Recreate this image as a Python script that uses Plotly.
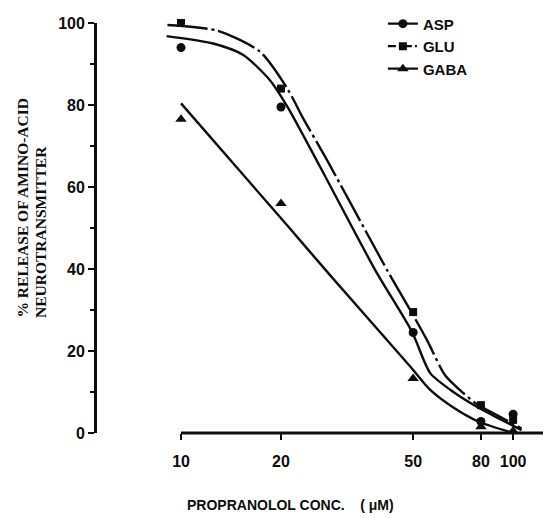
import math
import plotly.graph_objects as go

# ---- data ----
conc = [10, 20, 50, 80, 100]
asp = [94, 79.5, 24.5, 2.8, 4.6]
glu = [100, 84, 29.5, 6.8, 3.2]
gaba = [76.5, 56, 13.3, 1.5, 0.5]

# fitted curves
asp_fit_x = [9.05, 12.5, 15.4, 18.5, 20.9, 26.2, 38.4, 49.6, 56.3, 66.1, 78.5, 89.3, 106]
asp_fit_y = [96.8, 95.0, 92.2, 86.1, 79.6, 65.0, 39.8, 24.7, 14.6, 10.0, 6.2, 3.8, 0.7]
glu_fit_x = [9.1, 12.9, 17.3, 20.9, 23.3, 27.5, 41.7, 49.3, 55, 62.4, 70.9, 78.5, 89.3, 106]
glu_fit_y = [99.5, 98.1, 93.0, 84.0, 76.8, 66.6, 39.8, 29.6, 22.7, 14.1, 9.7, 6.8, 4.4, 1.1]
gaba_fit_x = [10, 20.9, 28.1, 49, 56.3, 66.1, 78.5, 100]
gaba_fit_y = [80.4, 50.6, 38.5, 16.2, 10.5, 6.2, 2.8, 0]

x_ticks = [10, 20, 50, 80, 100]
x_tick_text = ["<b>10</b>", "<b>20</b>", "<b>50</b>", "<b>80</b>", "<b>100</b>"]
y_ticks = [0, 20, 40, 60, 80, 100]
y_tick_text = ["<b>%d</b>" % v for v in y_ticks]

INK = "#0d0d0d"
GLU_DASH = "40px,4px,3px,4px"
SM = 0.7
LW = 2.4

fig = go.Figure()

# fitted curves
fig.add_trace(go.Scatter(x=asp_fit_x, y=asp_fit_y, mode="lines", showlegend=False,
                         line=dict(color=INK, width=LW, shape="spline", smoothing=SM)))
fig.add_trace(go.Scatter(x=glu_fit_x, y=glu_fit_y, mode="lines", showlegend=False,
                         line=dict(color=INK, width=LW, dash=GLU_DASH, shape="spline", smoothing=SM)))
fig.add_trace(go.Scatter(x=gaba_fit_x, y=gaba_fit_y, mode="lines", showlegend=False,
                         line=dict(color=INK, width=LW, shape="spline", smoothing=SM)))

# data points
fig.add_trace(go.Scatter(x=conc, y=glu, mode="markers", showlegend=False, cliponaxis=False,
                         marker=dict(symbol="square", size=8, color=INK)))
fig.add_trace(go.Scatter(x=conc, y=asp, mode="markers", showlegend=False, cliponaxis=False,
                         marker=dict(symbol="circle", size=9, color=INK)))
fig.add_trace(go.Scatter(x=conc, y=gaba, mode="markers", showlegend=False, cliponaxis=False,
                         marker=dict(symbol="triangle-up", size=10, color=INK)))

# legend entries
fig.add_trace(go.Scatter(x=[None], y=[None], mode="lines+markers", name="<b>ASP</b>",
                         line=dict(color=INK, width=LW), marker=dict(symbol="circle", size=9, color=INK)))
fig.add_trace(go.Scatter(x=[None], y=[None], mode="lines+markers", name="<b>GLU</b>",
                         line=dict(color=INK, width=LW, dash="8px,3px,2px,3px"),
                         marker=dict(symbol="square", size=8, color=INK)))
fig.add_trace(go.Scatter(x=[None], y=[None], mode="lines+markers", name="<b>GABA</b>",
                         line=dict(color=INK, width=LW), marker=dict(symbol="triangle-up", size=10, color=INK)))

xr = [0.747, 2.090]
x_axis_start = (1.0 - xr[0]) / (xr[1] - xr[0])

fig.update_layout(
    width=543, height=518,
    margin=dict(l=97, r=0, t=23, b=85),
    paper_bgcolor="white", plot_bgcolor="white",
    font=dict(family="Liberation Sans", color=INK),
    xaxis=dict(type="log", range=xr, showline=False, showgrid=False, zeroline=False,
               tickmode="array", tickvals=x_ticks, ticktext=x_tick_text, ticks="outside",
               ticklen=6, tickwidth=2, tickcolor=INK, ticklabelstandoff=8,
               tickfont=dict(family="Liberation Sans", size=16, color=INK)),
    yaxis=dict(range=[0, 100], showline=True, linewidth=2.8, linecolor=INK, showgrid=False,
               zeroline=False, tickmode="array", tickvals=y_ticks, ticktext=y_tick_text,
               ticks="outside", ticklen=6, tickwidth=2, tickcolor=INK, ticklabelstandoff=0,
               minor=dict(ticks="outside", ticklen=4, tickwidth=1.8, tickcolor=INK,
                          tickmode="linear", tick0=0, dtick=10, showgrid=False),
               tickfont=dict(family="Liberation Sans", size=16, color=INK)),
    showlegend=True,
    legend=dict(x=0.641, y=1.038, xanchor="left", yanchor="top", bgcolor="rgba(0,0,0,0)",
                font=dict(family="Liberation Sans", size=15, color=INK),
                tracegroupgap=0, itemwidth=30),
    shapes=[dict(type="line", xref="paper", yref="paper", x0=x_axis_start, x1=1, y0=0, y1=0,
                 line=dict(color=INK, width=2.8))],
    annotations=[
        dict(text="<b>% RELEASE OF AMINO-ACID</b>", textangle=-90, xref="paper", yref="paper",
             x=(22 - 97) / 446, y=(433 - 320) / 410, xanchor="center", yanchor="bottom",
             showarrow=False, font=dict(family="Liberation Serif", size=15.5, color=INK)),
        dict(text="<b>NEUROTRANSMITTER</b>", textangle=-90, xref="paper", yref="paper",
             x=(40 - 97) / 446, y=(433 - 320) / 410, xanchor="center", yanchor="bottom",
             showarrow=False, font=dict(family="Liberation Serif", size=15.5, color=INK)),
        dict(text="<b>PROPRANOLOL CONC.\u00a0\u00a0\u00a0\u00a0( \u03bcM)</b>", xref="paper", yref="paper",
             x=(185 - 97) / 446, y=(433 - 505) / 410, xanchor="left", yanchor="middle",
             showarrow=False, font=dict(family="Liberation Sans Narrow, Liberation Sans", size=14, color=INK)),
    ],
)

fig.write_html("out.html")
